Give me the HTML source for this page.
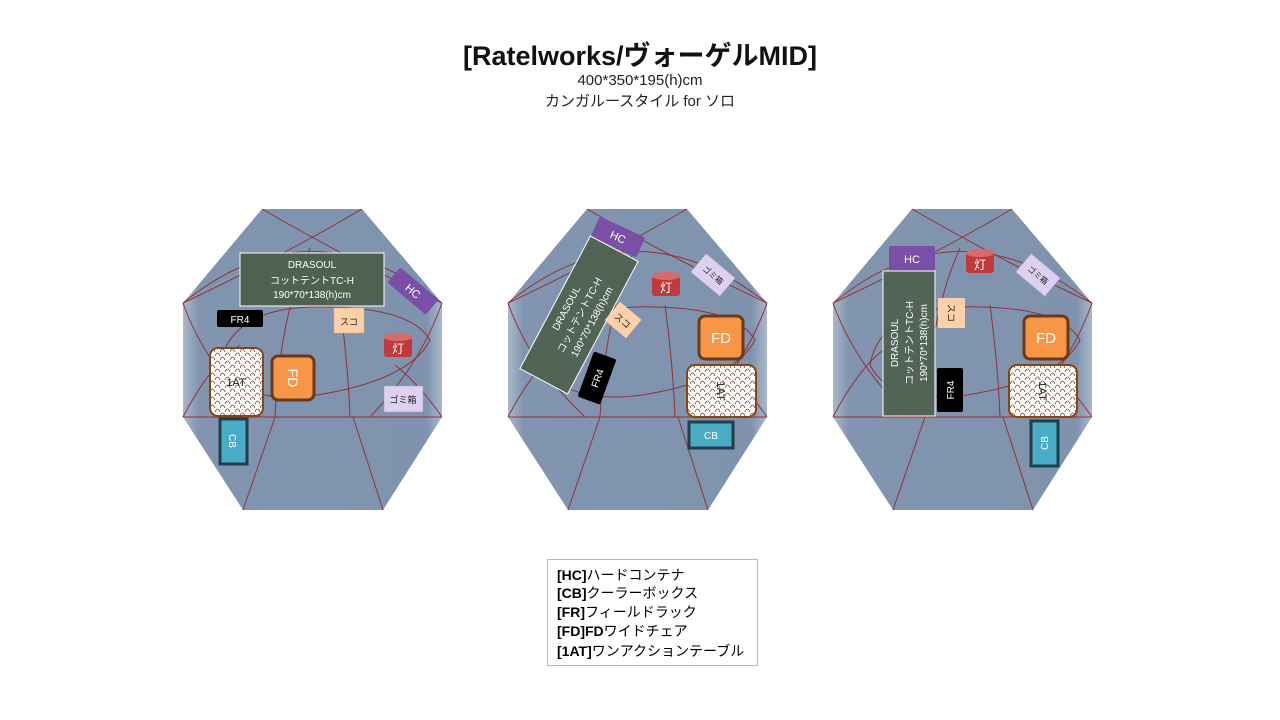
<!DOCTYPE html>
<html><head><meta charset="utf-8"><style>
html,body{margin:0;padding:0;background:#fff;width:1280px;height:720px;overflow:hidden}
svg{position:absolute;left:0;top:0}
text{font-family:"Liberation Sans","Noto Sans CJK JP",sans-serif}
</style></head><body>
<svg width="1280" height="720" viewBox="0 0 1280 720" xmlns="http://www.w3.org/2000/svg">
<defs>
<linearGradient id="oct" x1="0" y1="0" x2="1" y2="0">
<stop offset="0" stop-color="#aab8cc"/><stop offset="0.06" stop-color="#8195b0"/><stop offset="0.94" stop-color="#7f93ae"/><stop offset="1" stop-color="#a9b7cb"/>
</linearGradient>
<pattern id="scale" width="10" height="8" patternUnits="userSpaceOnUse">
<rect width="10" height="8" fill="#fff"/>
<path d="M0,8 Q2.5,2 5,8 M5,4 Q7.5,-2 10,4 M-5,4 Q-2.5,-2 0,4" fill="none" stroke="#7a3e1c" stroke-width="0.8"/>
</pattern>
<g id="base">
<polygon points="82,4 182,4 262,98 262,212 203,305 63,305 3,212 3,98" fill="url(#oct)"/>
<g fill="none" stroke="#8f3333" stroke-width="1">
<path d="M82,4 Q170,55 262,98"/>
<path d="M182,4 Q95,55 3,98"/>
<path d="M3,98 Q130,-5 262,98"/>
<path d="M3,212 L262,212"/>
<path d="M40,160 Q50,105 130,102 Q230,100 250,135 Q230,175 137,190 Q60,200 40,160"/>
<path d="M130,43 Q100,110 95,212"/>
<path d="M160,100 Q168,160 170,212"/>
<path d="M95,212 L63,305"/>
<path d="M173,212 L203,305"/>
<path d="M3,212 Q30,160 60,140"/>
<path d="M262,212 Q240,180 215,160"/>
<path d="M3,98 Q25,160 80,212"/>
<path d="M262,98 Q240,160 190,212"/>
</g>
</g>
</defs>

<text x="640" y="65" text-anchor="middle" font-size="27" font-weight="bold" fill="#111">[Ratelworks/ヴォーゲルMID]</text>
<text x="640" y="85" text-anchor="middle" font-size="15" fill="#222">400*350*195(h)cm</text>
<text x="640" y="106" text-anchor="middle" font-size="15" fill="#222">カンガルースタイル for ソロ</text>

<use href="#base" transform="translate(180,205)"/>
<use href="#base" transform="translate(505,205)"/>
<use href="#base" transform="translate(830,205)"/>

<!-- Diagram 1 -->
<rect x="240" y="253" width="144" height="53" fill="#4f6150" stroke="#fff" stroke-width="1"/>
<text x="312" y="268" text-anchor="middle" font-size="10" fill="#fff">DRASOUL</text>
<text x="312" y="284" text-anchor="middle" font-size="10" fill="#fff">コットテントTC-H</text>
<text x="312" y="298" text-anchor="middle" font-size="10" fill="#fff">190*70*138(h)cm</text>
<g transform="translate(413,291) rotate(40)"><rect x="-25" y="-10" width="50" height="20" rx="2" fill="#7a4fa6"/><text x="0" y="4" text-anchor="middle" font-size="11" fill="#fff">HC</text></g>
<rect x="217" y="310" width="46" height="17" rx="2" fill="#000"/><text x="240" y="323" text-anchor="middle" font-size="10" fill="#fff">FR4</text>
<rect x="334" y="308" width="30" height="25" fill="#fcd0a8" stroke="#e8a878" stroke-width="0.5"/><text x="349" y="325" text-anchor="middle" font-size="9" fill="#222">スコ</text>
<rect x="384" y="337" width="28" height="20" rx="3" fill="#c0393b"/><ellipse cx="398" cy="337" rx="14" ry="4" fill="#d96a6a"/><text x="398" y="353" text-anchor="middle" font-size="12" fill="#fff">灯</text>
<rect x="384" y="386" width="39" height="26" fill="#ddd0f0" stroke="#a898c8" stroke-width="0.5"/><text x="403" y="403" text-anchor="middle" font-size="9" fill="#222">ゴミ箱</text>
<rect x="210" y="348" width="53" height="68" rx="8" fill="url(#scale)" stroke="#8b4513" stroke-width="2"/><text x="236" y="386" text-anchor="middle" font-size="11" fill="#222">1AT</text>
<rect x="272" y="356" width="42" height="44" rx="6" fill="#f79646" stroke="#6b3a1a" stroke-width="3"/><text transform="translate(293,378) rotate(90)" text-anchor="middle" y="5" font-size="14" fill="#fff">FD</text>
<rect x="220" y="419" width="27" height="45" fill="#4bacc6" stroke="#1f3f4a" stroke-width="3"/><text transform="translate(233,441) rotate(90)" text-anchor="middle" y="4" font-size="10" fill="#fff">CB</text>

<!-- Diagram 2 -->
<g transform="translate(618,237) rotate(25)"><rect x="-25" y="-11" width="50" height="22" rx="2" fill="#7a4fa6"/><text x="0" y="4" text-anchor="middle" font-size="11" fill="#fff">HC</text></g>
<g transform="translate(579,315) rotate(-62)"><rect x="-75" y="-27" width="150" height="54" fill="#4f6150" fill-opacity="0.95" stroke="#fff"/>
<text x="0" y="-11" text-anchor="middle" font-size="10" fill="#fff">DRASOUL</text><text x="0" y="4" text-anchor="middle" font-size="10" fill="#fff">コットテントTC-H</text><text x="0" y="18" text-anchor="middle" font-size="10" fill="#fff">190*70*138(h)cm</text></g>
<rect x="652" y="276" width="28" height="20" rx="3" fill="#c0393b"/><ellipse cx="666" cy="276" rx="14" ry="4" fill="#d96a6a"/><text x="666" y="292" text-anchor="middle" font-size="12" fill="#fff">灯</text>
<g transform="translate(713,275) rotate(40)"><rect x="-19" y="-12" width="38" height="24" fill="#ddd0f0" stroke="#a898c8" stroke-width="0.5"/><text x="0" y="3" text-anchor="middle" font-size="8" fill="#222">ゴミ箱</text></g>
<g transform="translate(623,320) rotate(40)"><rect x="-14" y="-12" width="28" height="24" fill="#fcd0a8"/><text x="0" y="4" text-anchor="middle" font-size="9" fill="#222">スコ</text></g>
<g transform="translate(597,378) rotate(20)"><rect x="-12" y="-24" width="24" height="48" rx="2" fill="#000"/><text transform="rotate(-90)" x="0" y="4" text-anchor="middle" font-size="10" fill="#fff">FR4</text></g>
<rect x="699" y="316" width="44" height="43" rx="6" fill="#f79646" stroke="#6b3a1a" stroke-width="3"/><text x="721" y="343" text-anchor="middle" font-size="15" fill="#fff">FD</text>
<rect x="687" y="365" width="69" height="52" rx="8" fill="url(#scale)" stroke="#8b4513" stroke-width="2"/><text transform="translate(721,391) rotate(90)" x="0" y="4" text-anchor="middle" font-size="11" fill="#222">1AT</text>
<rect x="689" y="422" width="44" height="26" fill="#4bacc6" stroke="#1f3f4a" stroke-width="3"/><text x="711" y="439" text-anchor="middle" font-size="10" fill="#fff">CB</text>

<!-- Diagram 3 -->
<rect x="889" y="246" width="46" height="25" rx="2" fill="#7a4fa6"/><text x="912" y="263" text-anchor="middle" font-size="11" fill="#fff">HC</text>
<rect x="883" y="271" width="52" height="145" fill="#4f6150" fill-opacity="0.95" stroke="#fff"/>
<g transform="translate(909,343) rotate(-90)"><text x="0" y="-11" text-anchor="middle" font-size="10" fill="#fff">DRASOUL</text><text x="0" y="4" text-anchor="middle" font-size="10" fill="#fff">コットテントTC-H</text><text x="0" y="18" text-anchor="middle" font-size="10" fill="#fff">190*70*138(h)cm</text></g>
<rect x="966" y="253" width="28" height="20" rx="3" fill="#c0393b"/><ellipse cx="980" cy="253" rx="14" ry="4" fill="#d96a6a"/><text x="980" y="269" text-anchor="middle" font-size="12" fill="#fff">灯</text>
<g transform="translate(1038,275) rotate(40)"><rect x="-19" y="-12" width="38" height="24" fill="#ddd0f0" stroke="#a898c8" stroke-width="0.5"/><text x="0" y="3" text-anchor="middle" font-size="8" fill="#222">ゴミ箱</text></g>
<rect x="938" y="298" width="27" height="30" fill="#fcd0a8"/><text transform="translate(951,313) rotate(90)" x="0" y="3" text-anchor="middle" font-size="9" fill="#222">スコ</text>
<rect x="937" y="368" width="26" height="44" rx="2" fill="#000"/><text transform="translate(950,390) rotate(-90)" x="0" y="4" text-anchor="middle" font-size="10" fill="#fff">FR4</text>
<rect x="1024" y="316" width="44" height="43" rx="6" fill="#f79646" stroke="#6b3a1a" stroke-width="3"/><text x="1046" y="343" text-anchor="middle" font-size="15" fill="#fff">FD</text>
<rect x="1009" y="365" width="68" height="52" rx="8" fill="url(#scale)" stroke="#8b4513" stroke-width="2"/><text transform="translate(1043,391) rotate(90)" x="0" y="4" text-anchor="middle" font-size="11" fill="#222">1AT</text>
<rect x="1031" y="421" width="27" height="45" fill="#4bacc6" stroke="#1f3f4a" stroke-width="3"/><text transform="translate(1044,443) rotate(-90)" x="0" y="4" text-anchor="middle" font-size="10" fill="#fff">CB</text>

<!-- Legend -->
<rect x="547.5" y="559.5" width="210" height="106" fill="#fff" stroke="#a9bccb"/>
<g font-size="14" fill="#000">
<text x="557" y="580"><tspan font-weight="bold">[HC]</tspan>ハードコンテナ</text>
<text x="557" y="598"><tspan font-weight="bold">[CB]</tspan>クーラーボックス</text>
<text x="557" y="617"><tspan font-weight="bold">[FR]</tspan>フィールドラック</text>
<text x="557" y="636"><tspan font-weight="bold">[FD]FD</tspan>ワイドチェア</text>
<text x="557" y="656"><tspan font-weight="bold">[1AT]</tspan>ワンアクションテーブル</text>
</g>
</svg>
</body></html>
